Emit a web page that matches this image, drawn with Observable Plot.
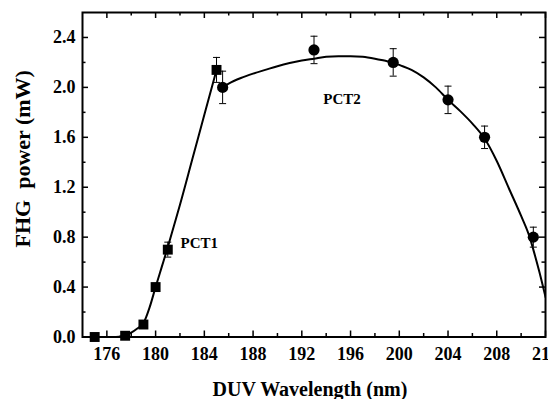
<!DOCTYPE html>
<html><head><meta charset="utf-8">
<script src="https://cdn.jsdelivr.net/npm/d3@7"></script>
<script src="https://cdn.jsdelivr.net/npm/@observablehq/plot@0.6"></script>
<style>
body{margin:0;background:#fff;}
#chart svg{font-family:"Liberation Serif","Times New Roman",serif !important;overflow:hidden;}
#chart svg text{font-family:"Liberation Serif","Times New Roman",serif !important;font-weight:bold !important;fill:#000;}
</style></head><body><div id="chart"></div>
<script>
// ---- data ----
const pct1X = [175, 177.5, 179, 180, 181, 185];
const pct1Y = [0.0, 0.01, 0.1, 0.4, 0.7, 2.14];
const pct1Err = [0, 0, 0.02, 0.03, 0.06, 0.1];

const pct2X = [185.5, 193, 199.5, 204, 207, 211];
const pct2Y = [2.0, 2.3, 2.2, 1.9, 1.6, 0.8];
const pct2Err = [0.13, 0.11, 0.11, 0.11, 0.09, 0.08];

const fit1X = [175, 176, 176.5, 177, 177.5, 178, 178.5, 179, 179.5, 180, 180.5, 181, 181.5, 182, 183, 184, 185];
const fit1Y = [0, 0, 0, 0.003, 0.012, 0.035, 0.068, 0.11, 0.235, 0.4, 0.56, 0.72, 0.89, 1.06, 1.42, 1.78, 2.14];

const fit2X = [185.5, 186, 187, 188, 189, 190, 191, 192, 193, 194, 195, 196, 197, 198, 199, 199.5, 200, 201, 202, 203, 204, 205, 206, 207, 208, 209, 210, 210.7, 211, 211.5, 212];
const fit2Y = [2.0, 2.03, 2.075, 2.11, 2.14, 2.17, 2.195, 2.215, 2.23, 2.245, 2.25, 2.25, 2.245, 2.23, 2.21, 2.2, 2.18, 2.14, 2.08, 2.0, 1.9, 1.81, 1.71, 1.59, 1.41, 1.19, 0.97, 0.8, 0.7, 0.52, 0.32];

const xMajor = [176, 180, 184, 188, 192, 196, 200, 204, 208, 212];
const xMinor = [178, 182, 186, 190, 194, 198, 202, 206, 210];
const yMajor = [0, 0.4, 0.8, 1.2, 1.6, 2.0, 2.4];
const yMinor = [0.2, 0.6, 1.0, 1.4, 1.8, 2.2];

const labelText = ["PCT1", "PCT2"];
const labelX = [182.05, 195.3];
const labelY = [0.712, 1.865];

const xTitle = "DUV Wavelength (nm)";
const yTitle = "FHG\u00A0\u00A0power (mW)";

// ---- build ----
const W = 548, H = 399, mL = 82, mR = 3, mT = 12, mB = 62.5;
const iW = W - mL - mR, iH = H - mT - mB;

const pts1 = pct1X.map((x, i) => ({x, y: pct1Y[i], e: pct1Err[i]}));
const pts2 = pct2X.map((x, i) => ({x, y: pct2Y[i], e: pct2Err[i]}));
const errs = [...pts1, ...pts2].filter(d => d.e > 0);
const fit1 = fit1X.map((x, i) => ({x, y: fit1Y[i]}));
const fit2 = fit2X.map((x, i) => ({x, y: fit2Y[i]}));

const capSymbol = {draw(ctx, size) { const r = Math.sqrt(size / Math.PI); ctx.moveTo(-r, 0); ctx.lineTo(r, 0); }};
const serif = "'Liberation Serif', 'Times New Roman', serif";

const chart = Plot.plot({
  width: W, height: H,
  marginLeft: mL, marginRight: mR, marginTop: mT, marginBottom: mB,
  style: {fontFamily: serif, fontWeight: "bold", color: "#000", background: "#fff", overflow: "hidden"},
  x: {domain: [174, 212]},
  y: {domain: [0, 2.6]},
  marks: [
    Plot.ruleX(errs, {x: "x", y1: d => d.y - d.e, y2: d => d.y + d.e, stroke: "#000", strokeWidth: 1}),
    Plot.dot(errs, {x: "x", y: d => d.y + d.e, symbol: capSymbol, r: 3.5, stroke: "#000", strokeWidth: 1}),
    Plot.dot(errs, {x: "x", y: d => d.y - d.e, symbol: capSymbol, r: 3.5, stroke: "#000", strokeWidth: 1}),
    Plot.line(fit1, {x: "x", y: "y", curve: "monotone-x", stroke: "#000", strokeWidth: 2, clip: true}),
    Plot.line(fit2, {x: "x", y: "y", curve: "monotone-x", stroke: "#000", strokeWidth: 2, clip: true}),
    Plot.dot(pts1, {x: "x", y: "y", symbol: "square", r: 5.6, fill: "#000", stroke: "none"}),
    Plot.dot(pts2, {x: "x", y: "y", symbol: "circle", r: 5.6, fill: "#000", stroke: "none"}),
    Plot.text([labelText[0]], {x: labelX[0], y: labelY[0], text: d => d, textAnchor: "start", lineAnchor: "bottom", fontSize: 15, fontFamily: serif, fontWeight: "bold"}),
    Plot.text([labelText[1]], {x: labelX[1], y: labelY[1], text: d => d, textAnchor: "middle", lineAnchor: "bottom", fontSize: 15, fontFamily: serif, fontWeight: "bold"}),
    Plot.tickX(xMajor, {x: d => d, insetTop: iH - 6, stroke: "#000", strokeWidth: 1.5}),
    Plot.tickX(xMinor, {x: d => d, insetTop: iH - 3.5, stroke: "#000", strokeWidth: 1.5}),
    Plot.tickX(xMajor, {x: d => d, insetBottom: iH - 6, stroke: "#000", strokeWidth: 1.5}),
    Plot.tickX(xMinor, {x: d => d, insetBottom: iH - 3.5, stroke: "#000", strokeWidth: 1.5}),
    Plot.tickY(yMajor, {y: d => d, insetRight: iW - 6, stroke: "#000", strokeWidth: 1.5}),
    Plot.tickY(yMinor, {y: d => d, insetRight: iW - 3.5, stroke: "#000", strokeWidth: 1.5}),
    Plot.tickY(yMajor, {y: d => d, insetLeft: iW - 6, stroke: "#000", strokeWidth: 1.5}),
    Plot.tickY(yMinor, {y: d => d, insetLeft: iW - 3.5, stroke: "#000", strokeWidth: 1.5}),
    Plot.axisX({ticks: xMajor, tickSize: 0, tickPadding: 10, fontSize: 18, fontFamily: serif, fontWeight: "bold", tickFormat: d => String(d), label: null}),
    Plot.axisY({ticks: yMajor, tickSize: 0, tickPadding: 7, fontSize: 18, fontFamily: serif, fontWeight: "bold", tickFormat: d3.format(".1f"), label: null}),
    Plot.frame({stroke: "#000", strokeWidth: 2}),
    Plot.text([xTitle], {frameAnchor: "bottom", textAnchor: "middle", dx: -4, dy: 58.5, text: d => d, lineAnchor: "bottom", fontSize: 20, fontFamily: serif, fontWeight: "bold"}),
    Plot.text([yTitle], {frameAnchor: "left", textAnchor: "middle", dx: -60, dy: -16, rotate: -90, text: d => d, lineAnchor: "middle", fontSize: 22, fontFamily: serif, fontWeight: "bold"})
  ]
});
document.getElementById("chart").appendChild(chart);
</script>
</body></html>
